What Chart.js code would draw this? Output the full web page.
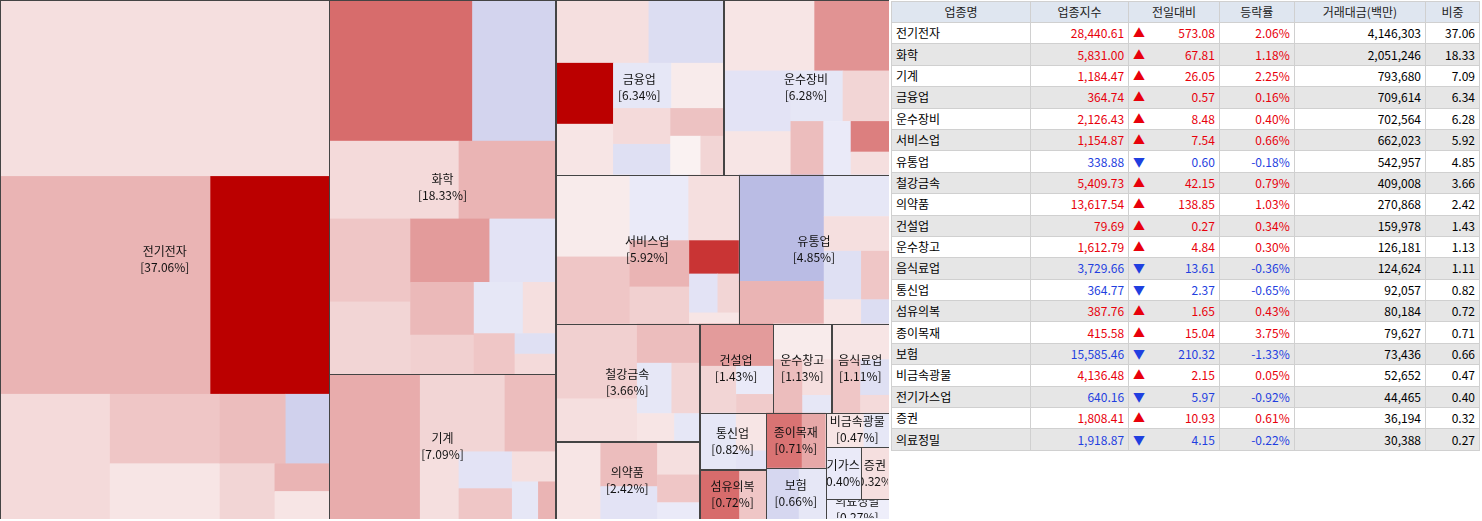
<!DOCTYPE html>
<html><head><meta charset="utf-8">
<script src="https://cdn.jsdelivr.net/npm/chart.js@4"></script>
<style>
body{margin:0;background:#fff;font-family:"Noto Sans CJK KR",sans-serif;}
#wrap{position:absolute;left:0;top:0;width:889px;height:519px;}
#tbl{position:absolute;left:891px;top:1px;width:589px;border-collapse:collapse;font-size:12px;}
#tbl td,#tbl th{height:20.4px;padding:0 4px;border:1px solid #d0d0d0;white-space:nowrap;line-height:20px;}
#tbl th{background:#dfe6f0;font-weight:normal;color:#222;height:19px;}
#tbl tr:nth-child(even) td{background:#e6e6e6;}
#tbl td{text-align:right;}
#tbl td:first-child{text-align:left;}
.r{color:#e8000b}.b{color:#1f3fe0}
</style></head><body>
<div id="wrap"><canvas id="c"></canvas></div>
<table id="tbl"><thead><tr><th style="width:130px">업종명</th><th>업종지수</th><th>전일대비</th><th>등락률</th><th>거래대금(백만)</th><th style="width:45px">비중</th></tr></thead><tbody id="tb"></tbody></table>
<script>
const sectors=["전기전자","화학","기계","금융업","운수장비","서비스업","유통업","철강금속","의약품","건설업","운수창고","음식료업","통신업","섬유의복","종이목재","보험","비금속광물","전기가스업","증권","의료정밀"];
const indexVals=["28,440.61","5,831.00","1,184.47","364.74","2,126.43","1,154.87","338.88","5,409.73","13,617.54","79.69","1,612.79","3,729.66","364.77","387.76","415.58","15,585.46","4,136.48","640.16","1,808.41","1,918.87"];
const diffVals=["573.08","67.81","26.05","0.57","8.48","7.54","0.60","42.15","138.85","0.27","4.84","13.61","2.37","1.65","15.04","210.32","2.15","5.97","10.93","4.15"];
const rates=[2.06,1.18,2.25,0.16,0.40,0.66,-0.18,0.79,1.03,0.34,0.30,-0.36,-0.65,0.43,3.75,-1.33,0.05,-0.92,0.61,-0.22];
const amounts=["4,146,303","2,051,246","793,680","709,614","702,564","662,023","542,957","409,008","270,868","159,978","126,181","124,624","92,057","80,184","79,627","73,436","52,652","44,465","36,194","30,388"];
const weights=[37.06,18.33,7.09,6.34,6.28,5.92,4.85,3.66,2.42,1.43,1.13,1.11,0.82,0.72,0.71,0.66,0.47,0.40,0.32,0.27];
const subW=[[38,30,17,9,5,4,3,2,2,1,1],[24,14,12,9,8,7,6,5,4,3,3,2,2,1,1],[40,20,12,8,6,5,4,3,2],[20,16,12,10,9,8,7,6,5,4,3],[22,18,14,10,9,8,6,5,4,3],[22,18,14,12,10,8,6,4,3,2],[40,16,12,10,8,6,4,3],[35,20,14,10,8,6,4],[30,22,16,12,10,6],[45,25,15,10],[40,30,20,10],[40,30,20,10],[55,30,15],[60,40],[60,40],[55,45],[60,40],[100],[100],[100]];
const subC=[[0.3,1.2,6.0,0.4,0.8,0.2,1.0,-1.0,0.5,1.2,0.2],[3.0,-0.9,0.4,1.2,0.8,0.5,1.8,-0.4,1.1,0.6,-0.3,0.3,0.8,-0.5,0.4],[1.4,0.5,1.0,0.3,-0.4,0.8,0.3,-0.3,1.2],[0.3,-0.6,6.0,0.2,-0.3,0.1,0.4,-0.5,0.9,0.0,0.5],[0.2,2.0,-0.4,0.2,-0.3,0.5,1.0,-0.2,2.5,0.3],[0.1,0.8,-0.2,0.3,1.2,0.6,4.5,-0.4,0.5,0.2],[-1.8,1.2,-0.3,0.3,-0.5,0.8,0.2,-0.6],[0.6,0.3,1.0,-0.3,0.5,0.2,-0.3],[0.2,1.0,-0.4,0.3,0.8,-0.2],[1.8,0.5,-0.2,0.7],[0.1,1.0,0.3,-0.3],[0.2,0.8,-0.5,0.4],[-0.3,0.2,-0.4],[3.0,0.8],[2.8,1.5],[-0.8,-0.3],[0.2,-0.3],[-0.2],[0.3],[-0.1]];

const tb=document.getElementById('tb');
sectors.forEach((s,i)=>{const up=rates[i]>=0,c=up?'r':'b';
tb.insertAdjacentHTML('beforeend',`<tr><td>${s}</td><td class="${c}">${indexVals[i]}</td><td class="${c}"><span style="float:left">${up?'▲':'▼'}</span>${diffVals[i]}</td><td class="${c}">${rates[i].toFixed(2)}%</td><td>${amounts[i]}</td><td>${weights[i].toFixed(2)}</td></tr>`);});

function squarify(vals,x,y,w,h){
  const total=vals.reduce((a,b)=>a+b,0);const scale=w*h/total;
  let items=vals.map((v,i)=>({i,a:v*scale}));const out=new Array(vals.length);
  function worst(row,side){const s=row.reduce((a,r)=>a+r.a,0);let mx=-Infinity,mn=Infinity;row.forEach(r=>{mx=Math.max(mx,r.a);mn=Math.min(mn,r.a)});return Math.max(side*side*mx/(s*s),s*s/(side*side*mn));}
  let row=[];
  function layout(row){const s=row.reduce((a,r)=>a+r.a,0);
    if(w>=h){const rw=s/h;let yy=y;row.forEach(r=>{const rh=r.a/rw;out[r.i]={x,y:yy,w:rw,h:rh};yy+=rh});x+=rw;w-=rw;}
    else{const rh=s/w;let xx=x;row.forEach(r=>{const rw2=r.a/rh;out[r.i]={x:xx,y,w:rw2,h:rh};xx+=rw2});y+=rh;h-=rh;}}
  while(items.length){const side=Math.min(w,h);const it=items[0];
    if(row.length===0||worst(row.concat([it]),side)<=worst(row,side)){row.push(it);items.shift();}
    else{layout(row);row=[];}}
  if(row.length)layout(row);return out;}
function col(c){
  if(c>=0){const t=Math.min(Math.pow(c/6,0.85),1);const a=[250,242,242],b=[187,0,0];return `rgb(${a.map((v,k)=>Math.round(v+(b[k]-v)*t)).join(',')})`;}
  const t=Math.min(Math.pow(-c/2.2,0.8),1);const a=[244,244,252],b=[176,178,224];return `rgb(${a.map((v,k)=>Math.round(v+(b[k]-v)*t)).join(',')})`;}

const tm={id:'tm',afterDraw(ch){const ctx=ch.ctx,xs=ch.scales.x,ys=ch.scales.y;
  const W=888,H=518;const rects=squarify(weights,0,0,W,H);
  const px=r=>{const x0=xs.getPixelForValue(r.x),x1=xs.getPixelForValue(r.x+r.w),y0=ys.getPixelForValue(r.y),y1=ys.getPixelForValue(r.y+r.h);return [x0,y0,x1-x0,y1-y0];};
  ctx.save();
  rects.forEach((r,i)=>{const subs=squarify(subW[i],r.x,r.y,r.w,r.h);
    subs.forEach((s,j)=>{const [a,b,c,d]=px(s);ctx.fillStyle=col(subC[i][j]);ctx.fillRect(a,b,c+0.5,d+0.5);});});
  rects.forEach((r,i)=>{const [a,b,c,d]=px(r);ctx.strokeStyle='#444';ctx.lineWidth=1;ctx.strokeRect(Math.round(a)+0.5,Math.round(b)+0.5,Math.round(c),Math.round(d));
    ctx.save();ctx.beginPath();ctx.rect(a+1,b+1,c-2,d-2);ctx.clip();
    ctx.font='12px "Noto Sans CJK KR"';ctx.textAlign='center';ctx.textBaseline='middle';
    const cx=a+c/2,cy=b+d/2;ctx.fillStyle='#111';
    ctx.fillText(sectors[i],cx,cy-8);ctx.fillText('['+weights[i].toFixed(2)+'%]',cx,cy+8);
    ctx.restore();});
  ctx.restore();}};
new Chart(document.getElementById('c'),{type:'scatter',data:{datasets:[{data:[]}]},
 options:{responsive:true,maintainAspectRatio:false,animation:false,layout:{padding:0},
 plugins:{legend:{display:false},tooltip:{enabled:false}},
 scales:{x:{type:'linear',min:0,max:888,display:false},y:{type:'linear',min:0,max:518,reverse:true,display:false}}},plugins:[tm]});
</script></body></html>
